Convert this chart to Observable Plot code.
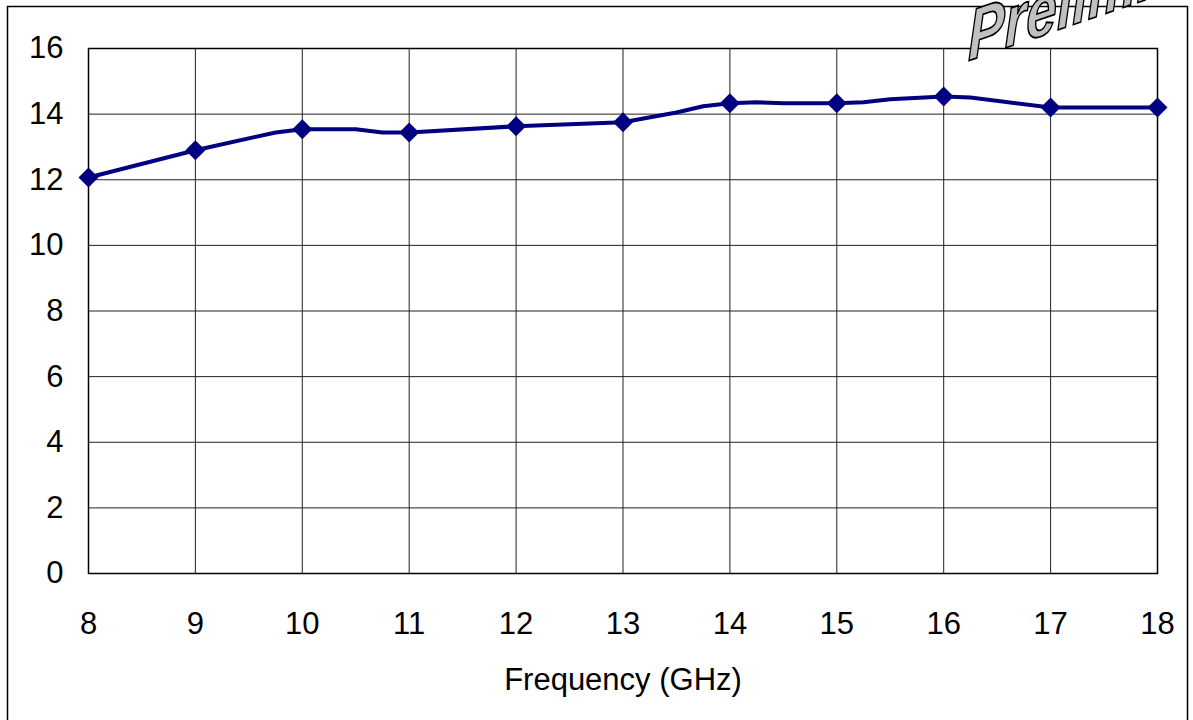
<!DOCTYPE html>
<html>
<head>
<meta charset="utf-8">
<script src="https://cdn.jsdelivr.net/npm/d3@7"></script>
<script src="https://cdn.jsdelivr.net/npm/@observablehq/plot@0.6"></script>
<style>
  html, body { margin: 0; padding: 0; background: #fff; }
  #chart { width: 1193px; height: 720px; overflow: hidden; }
</style>
</head>
<body>
<div id="chart"></div>
<script>
const freq = [8, 9, 9.75, 10, 10.5, 10.75, 11, 12, 13, 13.5, 13.75, 14, 14.25, 14.5, 15, 15.25, 15.5, 16, 16.25, 17, 18];
const gain = [12.07, 12.9, 13.44, 13.54, 13.54, 13.44, 13.44, 13.63, 13.75, 14.05, 14.24, 14.33, 14.36, 14.33, 14.33, 14.36, 14.45, 14.54, 14.51, 14.2, 14.2];
const xTicks = [8, 9, 10, 11, 12, 13, 14, 15, 16, 17, 18];
const yTicks = [0, 2, 4, 6, 8, 10, 12, 14, 16];
const xLabel = "Frequency (GHz)";
const watermark = "Preliminary";

const data = freq.map((f, i) => ({f, g: gain[i]}));
const markers = data.filter(d => Number.isInteger(d.f));

const chart = Plot.plot({
  width: 1193,
  height: 720,
  marginLeft: 88,
  marginRight: 36,
  marginTop: 48,
  marginBottom: 147,
  style: {fontFamily: "'Liberation Sans', Arial, sans-serif", fontSize: "31px", color: "#000", background: "#fff", overflow: "visible"},
  x: {domain: [8, 18]},
  y: {domain: [0, 16]},
  marks: [
    Plot.gridX(xTicks, {stroke: "#222", strokeOpacity: 1, strokeWidth: 1}),
    Plot.gridY(yTicks, {stroke: "#222", strokeOpacity: 1, strokeWidth: 1}),
    Plot.frame({stroke: "#000", strokeWidth: 1.5}),
    Plot.axisX(xTicks, {tickSize: 0, tickPadding: 38, fontSize: 31, label: null}),
    Plot.axisY(yTicks, {tickSize: 0, tickPadding: 25, fontSize: 31, label: null}),
    Plot.text([xLabel], {frameAnchor: "bottom", dy: 107, lineAnchor: "middle", fontSize: 31, fill: "#000"}),
    Plot.line(data, {x: "f", y: "g", stroke: "#000080", strokeWidth: 4, strokeLinejoin: "round"}),
    Plot.dot(markers, {x: "f", y: "g", symbol: "diamond2", r: 9, fill: "#000080", stroke: "none"})
  ]
});

const svg = d3.select(chart);
svg.append("rect")
  .attr("x", 7.5).attr("y", 6.5).attr("width", 1180).attr("height", 730)
  .attr("fill", "none").attr("stroke", "#000").attr("stroke-width", 1.5);
svg.append("text")
  .attr("transform", "translate(968,61) skewY(-19) scale(0.92,1.2)")
  .attr("text-anchor", "start")
  .attr("font-family", "'Liberation Sans', Arial, sans-serif")
  .attr("font-weight", "bold").attr("font-style", "italic")
  .attr("font-size", 60)
  .attr("fill", "#c0c0c0").attr("stroke", "#000").attr("stroke-width", 1.5)
  .text(watermark);

document.getElementById("chart").appendChild(chart);
</script>
</body>
</html>
